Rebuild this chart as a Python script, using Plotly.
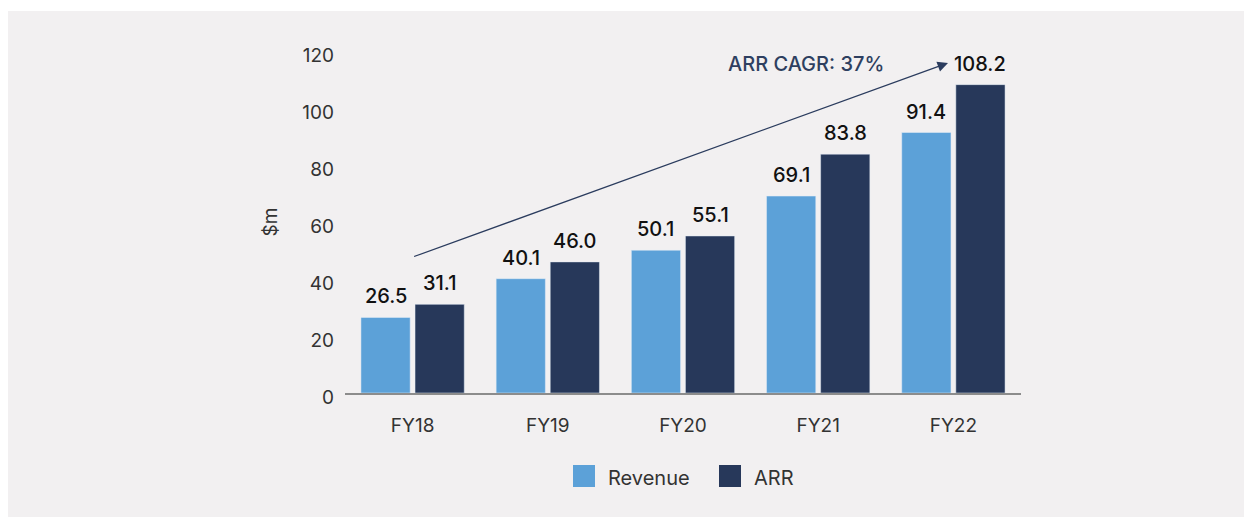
import plotly.graph_objects as go

categories = ["FY18", "FY19", "FY20", "FY21", "FY22"]
revenue = [26.5, 40.1, 50.1, 69.1, 91.4]
arr = [31.1, 46.0, 55.1, 83.8, 108.2]
y_ticks = [0, 20, 40, 60, 80, 100, 120]
cagr_text = "ARR CAGR: 37%"
series_names = ["Revenue", "ARR"]

REV_COLOR = "#5ca1d8"
ARR_COLOR = "#27385a"
PANEL = "#f2f0f1"
FONT = "Inter"

W, H = 1252, 517
L, R, T, B = 337, 239, 43, 132
pw = W - L - R
ph = H - T - B


def px(fx):
    return (fx - L) / pw


def py(fy):
    return (H - B - fy) / ph


fig = go.Figure()
fig.add_trace(go.Bar(name=series_names[0], x=categories, y=revenue, marker_color=REV_COLOR))
fig.add_trace(go.Bar(name=series_names[1], x=categories, y=arr, marker_color=ARR_COLOR))

BARGAP = 0.2
half = (1 - BARGAP) / 4
for i in range(len(categories)):
    for val, dx in ((revenue[i], -half), (arr[i], half)):
        fig.add_annotation(x=i + dx, y=val, xref="x", yref="y", text=f"{val:.1f}",
                           showarrow=False, yanchor="bottom", yshift=7,
                           font=dict(family=FONT, size=20, color="#111111", weight=500))

# CAGR arrow from above FY18 group to FY22 label
fig.add_annotation(x=3.96, y=115.8, ax=0.0, ay=47.7, xref="x", yref="y", axref="x", ayref="y",
                   text="", showarrow=True, arrowhead=2, arrowsize=1.6, arrowwidth=1.3,
                   arrowcolor="#2b3c5e", standoff=0, startstandoff=0)
fig.add_annotation(x=2.91, y=115.4, xref="x", yref="y", text=cagr_text, showarrow=False,
                   font=dict(family=FONT, size=20, color="#2e3f60", weight=500))

# thin white strip above the grey panel
fig.add_shape(type="rect", xref="paper", yref="paper", layer="below", line_width=0,
              fillcolor="white", x0=px(-5), x1=px(W + 5), y0=py(3), y1=py(-5))

# legend with large square swatches
legend_items = [(series_names[0], REV_COLOR, 565, 598), (series_names[1], ARR_COLOR, 711, 744)]
for name, col, sx, tx in legend_items:
    fig.add_shape(type="rect", xref="paper", yref="paper", line_width=0, fillcolor=col,
                  x0=px(sx), x1=px(sx + 22), y0=py(479), y1=py(457))
    fig.add_annotation(xref="paper", yref="paper", x=px(tx), y=py(470), text=name,
                       showarrow=False, xanchor="left", yanchor="middle",
                       font=dict(family=FONT, size=20, color="#333333"))

fig.update_layout(
    width=W, height=H,
    margin=dict(l=L, r=R, t=T, b=B),
    paper_bgcolor=PANEL, plot_bgcolor=PANEL,
    barmode="group", bargap=BARGAP, bargroupgap=0.09,
    font=dict(family=FONT, size=19, color="#333333"),
    showlegend=False,
    xaxis=dict(type="category", showline=True, linecolor="#8c8c8c", linewidth=2,
               showgrid=False, ticks="", ticklabelstandoff=14, zeroline=False,
               range=[-0.5, 4.5], tickfont=dict(family=FONT, size=19, color="#333333")),
    yaxis=dict(range=[0, 120], tickvals=y_ticks, showgrid=False, zeroline=False,
               showline=False, ticks="", ticklabelstandoff=10, ticklabelshift=4,
               tickfont=dict(family=FONT, size=19, color="#333333"),
               title=dict(text="$m", standoff=19, font=dict(family=FONT, size=19, color="#333333"))),
)

fig.write_html("out.html")
